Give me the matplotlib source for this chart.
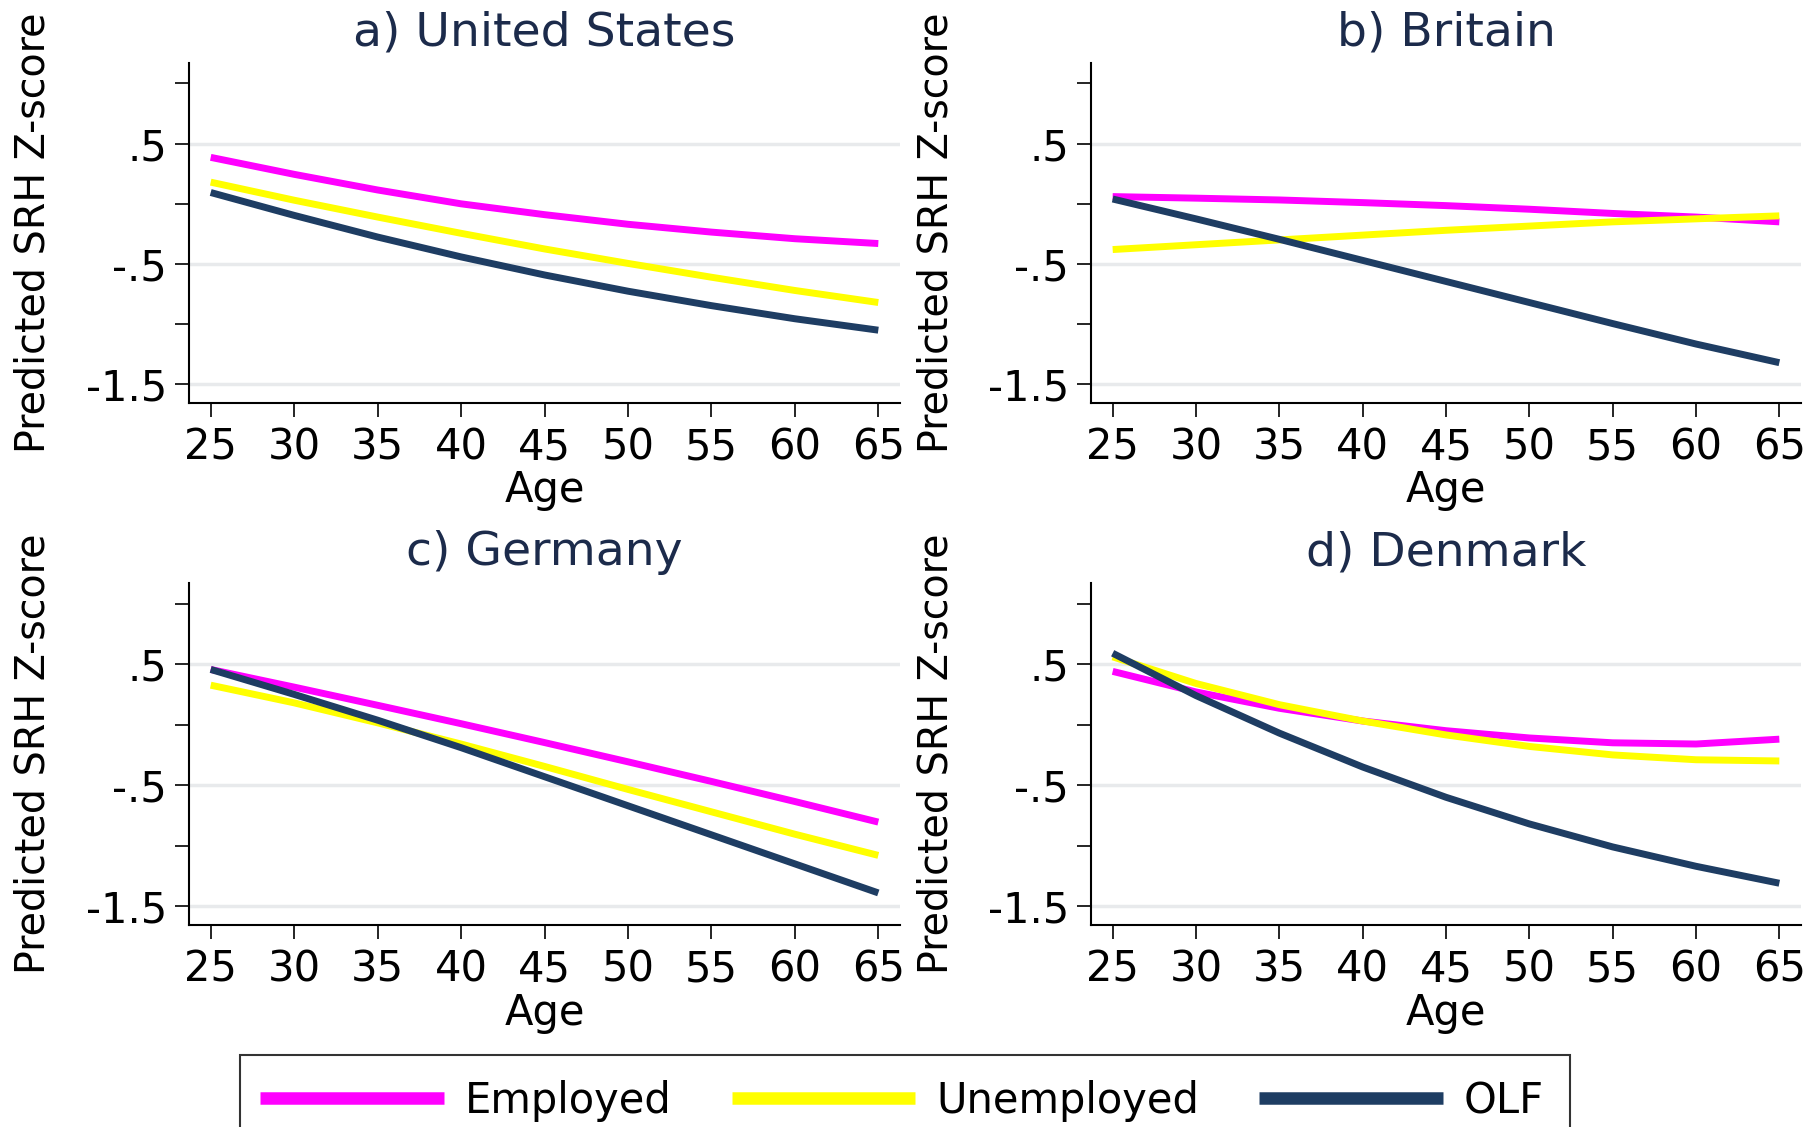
import matplotlib
matplotlib.use("Agg")
import matplotlib.pyplot as plt
from matplotlib.patches import Rectangle

# Predicted SRH z-scores by age
ages = [25, 30, 35, 40, 45, 50, 55, 60, 65]

us_employed = [0.386, 0.245, 0.115, 0.0, -0.09, -0.17, -0.235, -0.29, -0.33]
us_unemployed = [0.18, 0.03, -0.11, -0.245, -0.375, -0.495, -0.61, -0.72, -0.82]
us_olf = [0.094, -0.096, -0.276, -0.441, -0.591, -0.726, -0.846, -0.955, -1.05]

gb_employed = [0.06, 0.047, 0.032, 0.01, -0.015, -0.045, -0.08, -0.11, -0.15]
gb_unemployed = [-0.38, -0.34, -0.30, -0.26, -0.22, -0.185, -0.15, -0.125, -0.10]
gb_olf = [0.04, -0.125, -0.295, -0.47, -0.645, -0.82, -0.995, -1.165, -1.32]

de_employed = [0.456, 0.31, 0.16, 0.008, -0.148, -0.307, -0.469, -0.635, -0.805]
de_unemployed = [0.326, 0.18, 0.015, -0.16, -0.345, -0.535, -0.72, -0.905, -1.08]
de_olf = [0.456, 0.25, 0.037, -0.19, -0.43, -0.67, -0.91, -1.15, -1.39]

dk_employed = [0.44, 0.27, 0.135, 0.03, -0.05, -0.11, -0.15, -0.16, -0.12]
dk_unemployed = [0.56, 0.34, 0.165, 0.03, -0.085, -0.18, -0.25, -0.29, -0.30]
dk_olf = [0.59, 0.24, -0.07, -0.35, -0.60, -0.82, -1.01, -1.17, -1.31]

titles = ["a) United States", "b) Britain", "c) Germany", "d) Denmark"]
series_names = ["Employed", "Unemployed", "OLF"]

major_ticks = [0.5, -0.5, -1.5]
major_labels = [".5", "-.5", "-1.5"]
minor_ticks = [1.0, 0.0, -1.0]
age_ticks = list(range(25, 70, 5))

colors = ["#FF00FF", "#FFFF00", "#1E3D63"]
title_color = "#1C2B4B"

W, H = 1813, 1127
fig = plt.figure(figsize=(W / 100, H / 100), dpi=100)

# panel boxes in pixels: left, top, right, bottom
boxes = [
    (189, 63, 900, 403),
    (1091, 63, 1801, 403),
    (189, 583, 900, 925),
    (1091, 583, 1801, 925),
]
panel_data = [
    (us_employed, us_unemployed, us_olf),
    (gb_employed, gb_unemployed, gb_olf),
    (de_employed, de_unemployed, de_olf),
    (dk_employed, dk_unemployed, dk_olf),
]

handles = []
for (l, t, r, b), title, data in zip(boxes, titles, panel_data):
    ax = fig.add_axes([l / W, 1 - b / H, (r - l) / W, (b - t) / H])
    for ys, col, name in zip(data, colors, series_names):
        (ln,) = ax.plot(ages, ys, color=col, lw=5, solid_capstyle="butt",
                        solid_joinstyle="round", zorder=3)
        if len(handles) < 3:
            handles.append(ln)

    ax.set_xlim(23.7, 66.3)
    ax.set_ylim(-1.655, 1.17)
    ax.set_yticks(major_ticks)
    ax.set_yticklabels(major_labels)
    ax.set_yticks(minor_ticks, minor=True)
    ax.set_xticks(age_ticks)
    ax.set_xticklabels([str(a) for a in age_ticks])
    ax.tick_params(axis="both", which="both", direction="out", length=10,
                   width=1.2, labelsize=30, pad=6, colors="black")
    ax.tick_params(axis="x", pad=7)
    ax.tick_params(axis="y", which="minor", labelleft=False)
    ax.grid(axis="y", which="major", color="#E8EAEC", lw=2.5, zorder=1)
    ax.set_axisbelow(True)
    for side in ("top", "right"):
        ax.spines[side].set_visible(False)
    for side in ("left", "bottom"):
        ax.spines[side].set_linewidth(1.5)
        ax.spines[side].set_color("black")

    ax.set_xlabel("Age", fontsize=30)
    ax.xaxis.set_label_coords(0.5, -0.195)
    ax.set_ylabel("Predicted SRH Z-score", fontsize=28.5)
    ax.yaxis.set_label_coords(-0.19, 0.5)
    ax.text(0.5, 1.088, title, transform=ax.transAxes, ha="center", va="center",
            fontsize=34, color=title_color)

# legend box at the bottom, running off the lower edge like the original
fig.patches.append(Rectangle((240 / W, 1 - 1145 / H), 1330 / W, 90 / H,
                             transform=fig.transFigure, fill=False,
                             edgecolor="#333333", lw=1.5))
leg = fig.legend(handles, series_names, loc="center", ncol=3,
                 bbox_to_anchor=(902 / W, 1 - 1101 / H), frameon=False,
                 fontsize=30, handlelength=4.4, handletextpad=0.5,
                 columnspacing=1.45)
for lh in leg.get_lines():
    lh.set_linewidth(9)

fig.savefig("out.png", dpi=100)
